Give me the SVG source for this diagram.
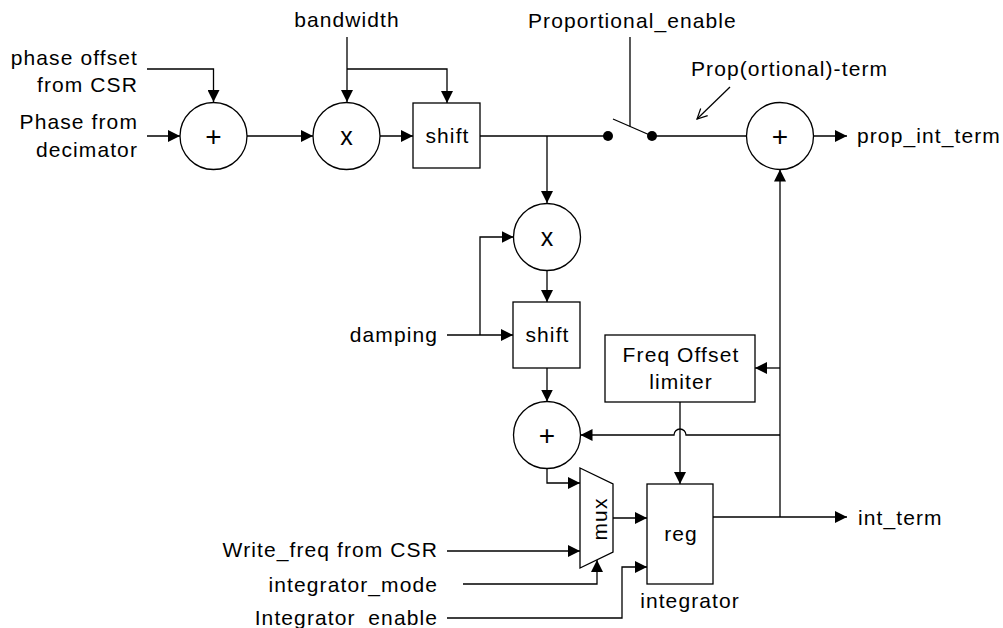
<svg xmlns="http://www.w3.org/2000/svg" width="1003" height="628" viewBox="0 0 1003 628">
<style>
.ln{fill:none;stroke:#000;stroke-width:1.3}
.nd{fill:#fff;stroke:#000;stroke-width:1.3}
text{font-family:"Liberation Sans",Arial,sans-serif;font-size:21px;fill:#000;letter-spacing:1.1px}
.e{text-anchor:end}
.m{text-anchor:middle}
.sym{letter-spacing:0;text-anchor:middle}
.plus{font-size:28px}
.times{font-size:25px}
</style>
<defs>
<marker id="a" markerUnits="userSpaceOnUse" markerWidth="13" markerHeight="12" refX="12" refY="6" orient="auto">
<path d="M0,0 L12,6 L0,12 z" fill="#000"/>
</marker>
<marker id="o" markerUnits="userSpaceOnUse" markerWidth="14" markerHeight="14" refX="11" refY="6" orient="auto">
<path d="M1,1 L11,6 L1,11" fill="none" stroke="#000" stroke-width="1.2"/>
</marker>
</defs>

<g id="labels">
<text class="e" x="138" y="65">phase offset</text>
<text class="e" x="138" y="92">from CSR</text>
<text class="e" x="138" y="129">Phase from</text>
<text class="e" x="138" y="157">decimator</text>
<text class="m" x="347" y="27">bandwidth</text>
<text x="528" y="28">Proportional_enable</text>
<text x="691" y="76">Prop(ortional)-term</text>
<text x="857" y="143">prop_int_term</text>
<text class="e" x="438" y="342">damping</text>
<text x="858" y="525">int_term</text>
<text class="e" x="438" y="557">Write_freq from CSR</text>
<text class="e" x="438" y="592">integrator_mode</text>
<text class="e" x="438" y="625">Integrator_enable</text>
</g>

<g id="connectors">
<path class="ln" d="M147,69 H213.5 V102" marker-end="url(#a)"/>
<path class="ln" d="M147,136 H180" marker-end="url(#a)"/>
<path class="ln" d="M247,136 H313" marker-end="url(#a)"/>
<path class="ln" d="M347,37 V102" marker-end="url(#a)"/>
<path class="ln" d="M347,69 H447 V103" marker-end="url(#a)"/>
<path class="ln" d="M380,136 H413" marker-end="url(#a)"/>
<path class="ln" d="M480,136 H608"/>
<path class="ln" d="M547,136 V203" marker-end="url(#a)"/>
<path class="ln" d="M547,270 V302" marker-end="url(#a)"/>
<path class="ln" d="M447,335 H513" marker-end="url(#a)"/>
<path class="ln" d="M480,335 V237 H513.5" marker-end="url(#a)"/>
<path class="ln" d="M547,368 V401.5" marker-end="url(#a)"/>
<path class="ln" d="M547,468 V483 H580" marker-end="url(#a)"/>
<path class="ln" d="M613,518 H647" marker-end="url(#a)"/>
<path class="ln" d="M447,551 H580" marker-end="url(#a)"/>
<path class="ln" d="M463,584 H597 V560" marker-end="url(#a)"/>
<path class="ln" d="M447,618 H622 V567 H647" marker-end="url(#a)"/>
<path class="ln" d="M680,402 V484" marker-end="url(#a)"/>
<path class="ln" d="M713,517 H847" marker-end="url(#a)"/>
<path class="ln" d="M780,517 V169.5" marker-end="url(#a)"/>
<path class="ln" d="M780,368 H755" marker-end="url(#a)"/>
<path class="ln" d="M780,435 H686 A6,6 0 0 0 674,435 H580.5" marker-end="url(#a)"/>
<path class="ln" d="M652,136 H746.5"/>
<path class="ln" d="M813.5,136 H847" marker-end="url(#a)"/>
<path class="ln" d="M630,37 V126.5"/>
<path class="ln" d="M613,119 L652,136"/>
<path class="ln" d="M730,87 L697,119" marker-end="url(#o)"/>
<circle cx="608" cy="136" r="5" fill="#000"/>
<circle cx="652" cy="136" r="5" fill="#000"/>
</g>

<g id="sum1"><circle class="nd" cx="213.5" cy="136" r="33.5"/><text class="sym plus" x="213.5" y="145.5">+</text></g>
<g id="mult1"><circle class="nd" cx="346.5" cy="136" r="33.5"/><text class="sym times" x="346.5" y="145">x</text></g>
<g id="shift1"><rect class="nd" x="413" y="103" width="67" height="65"/><text class="m" x="447.5" y="143">shift</text></g>
<g id="mult2"><circle class="nd" cx="547" cy="237" r="33.5"/><text class="sym times" x="547" y="246">x</text></g>
<g id="shift2"><rect class="nd" x="513" y="302" width="67" height="66"/><text class="m" x="547.5" y="342">shift</text></g>
<g id="sum2"><circle class="nd" cx="547" cy="435" r="33.5"/><text class="sym plus" x="547" y="444.5">+</text></g>
<g id="freq_offset_limiter"><rect class="nd" x="605" y="335" width="150" height="67"/><text class="m" x="681" y="362">Freq Offset</text><text class="m" x="681" y="389">limiter</text></g>
<g id="mux"><polygon class="nd" points="580,468 613,484 613,552 580,568"/><text class="m" transform="translate(607,519) rotate(-90)">mux</text></g>
<g id="reg"><rect class="nd" x="647" y="484" width="66" height="100"/><text class="m" x="681" y="541">reg</text><text class="m" x="690" y="608">integrator</text></g>
<g id="sum3"><circle class="nd" cx="780" cy="136" r="33.5"/><text class="sym plus" x="780" y="145.5">+</text></g>
</svg>
